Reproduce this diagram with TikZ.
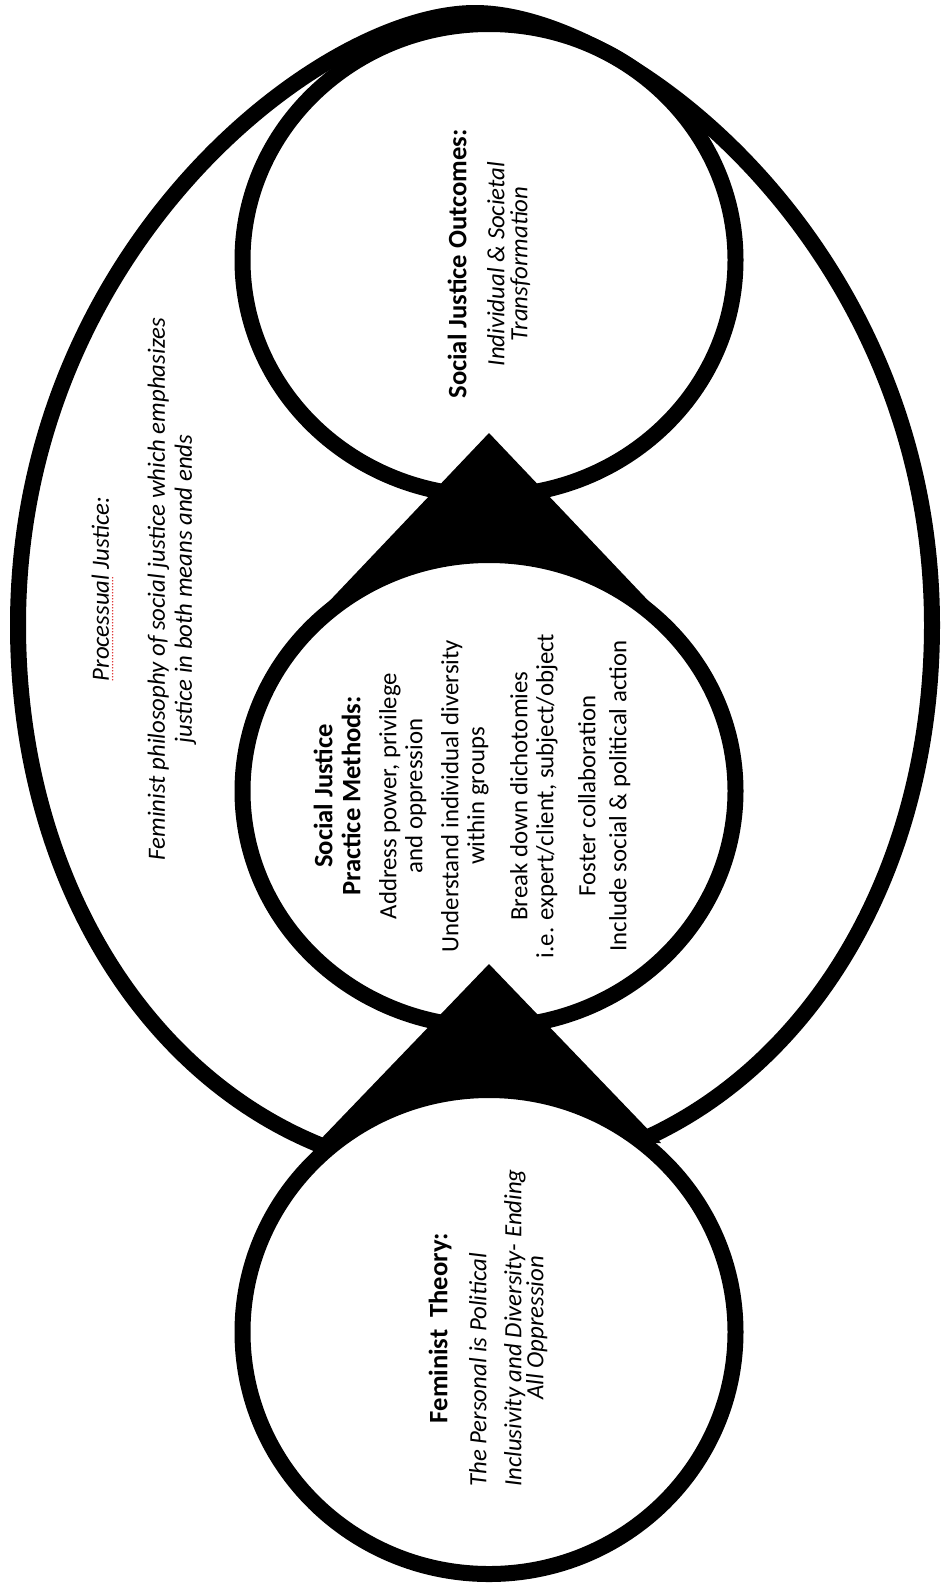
\documentclass[tikz,border=0pt]{standalone}
\usepackage{fontspec}
\setmainfont{Carlito}
\usepackage{calc}
\usepackage{xcolor}
\usepackage{tikz}
\usetikzlibrary{shapes.geometric}
\definecolor{inkblack}{RGB}{0,0,0}
\definecolor{spellred}{RGB}{220,40,40}
\newcommand{\spellwave}[1]{\rlap{\raisebox{-2.2pt}{\textcolor{spellred}{\makebox[\widthof{#1}][s]{\leaders\hbox to 1.5pt{\hss\fontsize{6}{6}\selectfont.\hss}\hfill}}}}#1}
\newcommand{\flushwith}[2]{\makebox[\widthof{#1}][l]{#2}}
\newcommand{\hd}[1]{{\fontsize{13.3}{14}\selectfont\bfseries #1}}
\tikzset{
  ring/.style={ellipse, draw=inkblack, fill=white, line width=8pt, inner sep=0pt},
  shell/.style={draw=inkblack, line width=8pt},
  wedge/.style={fill=inkblack},
  blurb/.style={rotate=90, align=center, inner sep=0pt,
    font=\fontsize{12.4}{13}\selectfont, text=inkblack}
}

\begin{document}
\begin{tikzpicture}[x=0.5pt, y=-0.5pt]
  \useasboundingbox (0,0) rectangle (945,1585);

  \draw[shell] (475,13) .. controls (320,13) and (18,250) .. (18,625)
    .. controls (18,935) and (212,1175) .. (475,1175)
    .. controls (738,1175) and (932,935) .. (932,625)
    .. controls (932,250) and (630,13) .. (475,13) -- cycle;

  \node[ring, minimum width=246.5pt, minimum height=236pt] (outcomes) at (489,260) {};
  \fill[wedge] (489,433) -- (319,612) -- (659,612) -- cycle;
  \node[ring, minimum width=246.5pt, minimum height=236pt] (methods) at (489,791) {};
  \fill[wedge] (489,964) -- (317,1143) -- (661,1143) -- cycle;
  \node[ring, minimum width=246.5pt, minimum height=242pt] (theory) at (489,1332) {};

  \node[blurb] (processtext) at (144,589) {\textit{\spellwave{Processual} Justice:}\\[15pt]
    \textit{Feminist philosophy of social justice which emphasizes}\\[0.5pt]
    \textit{justice in both means and ends}};

  \node[blurb] (outcomestext) at (489,264) {\hd{Social Justice Outcomes:}\\[6pt]
    \textit{Individual \& Societal}\\[-1.5pt]
    \textit{Transformation}};

  \node[blurb] (methodstext) at (472,796) {\hd{Social Justice}\\[1pt]
    \hd{Practice Methods:}\\[5pt]
    Address power, privilege\\
    and oppression\\[5pt]
    Understand individual diversity\\
    within groups\\[8.5pt]
    Break down dichotomies\\
    i.e. expert/client, subject/object\\[8pt]
    Foster collaboration\\[2.5pt]
    Include social \& political action};

  \node[blurb] (theorytext) at (488,1328) {\hd{Feminist~ Theory:}\\[6.5pt]
    \textit{\flushwith{Inclusivity and Diversity- Ending}{The Personal is Political}}\\[4.5pt]
    \textit{Inclusivity and Diversity- Ending}\\[-2pt]
    \textit{All Oppression}};
\end{tikzpicture}
\end{document}
